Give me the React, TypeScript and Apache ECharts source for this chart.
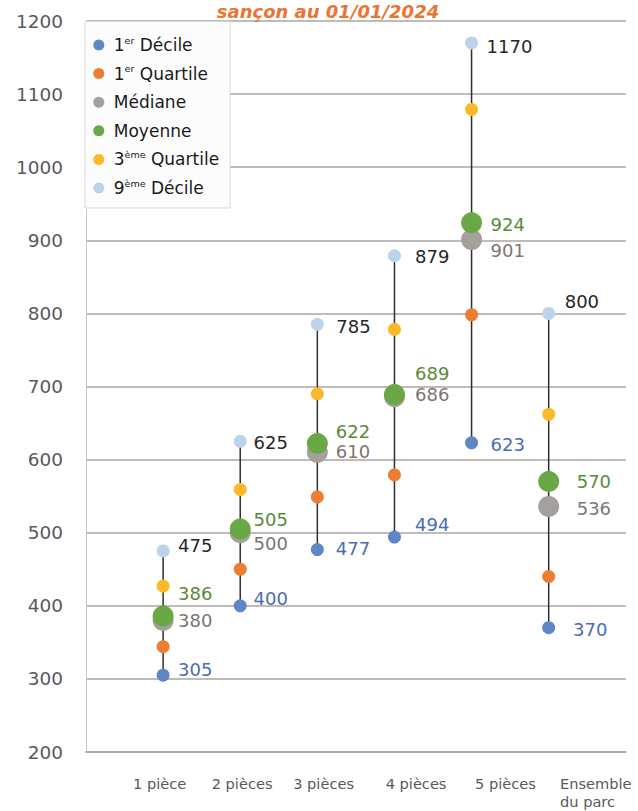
import React, { useEffect, useRef } from "react";
import * as echarts from "echarts";

// ---- data ----
const categories = ["1 pièce", "2 pièces", "3 pièces", "4 pièces", "5 pièces", "Ensemble du parc"];
const seriesNames = ["1er Décile", "1er Quartile", "Médiane", "Moyenne", "3ème Quartile", "9ème Décile"];
const decile1 = [305, 400, 477, 494, 623, 370];
const quartile1 = [344, 450, 549, 579, 798, 440];
const mediane = [380, 500, 610, 686, 901, 536];
const moyenne = [386, 505, 622, 689, 924, 570];
const quartile3 = [427, 559, 690, 778, 1079, 662];
const decile9 = [475, 625, 785, 879, 1170, 800];
const titleText = "sançon au 01/01/2024";

// ---- layout (positions of labels, not data) ----
const xLabelPos = [0.954, 2.024, 3.081, 4.28, 5.44, 6.633];
const d1LabelDx = [15, 13.3, 18.4, 20.6, 19, 24.4];
const d1LabelDy = [-6, -7, -1, -13, 1.5, 2];
const d9LabelDx = [15, 13.3, 19, 20.6, 15, 16];
const d9LabelDy = [-5, 1, 2, 1, 4, -12];
const meanLabelDx = [15, 13.3, 18.4, 20.6, 19, 28];
const meanLabelDy = [-23, -9.5, -12.5, -21.5, 2, 0];
const medLabelDx = [15, 13.3, 18.4, 20.6, 19, 28];
const medLabelDy = [0, 11, -1, -2, 11, 2];

const FONT = "DejaVu Sans";
const SMALL = 13;
const BIG = 21;

function pointData(values: number[], dx?: number[], dy?: number[], size = SMALL) {
  return values.map((v, i) => {
    const item: any = { value: [i + 1, v] };
    if (dx && dy) item.label = { offset: [dx[i] - size / 2, dy[i]] };
    return item;
  });
}

function wrapLabel(name: string) {
  if (name.indexOf(" du ") >= 0) {
    const parts = name.replace(" du ", "\ndu ").split("\n");
    return parts.map((p) => "{e|" + p + "}").join("\n");
  }
  return name;
}

export default function App() {
  const ref = useRef<HTMLDivElement>(null);

  useEffect(() => {
    if (!ref.current) return;
    const chart = echarts.init(ref.current, undefined, { renderer: "svg" });

    const labelBase = (color: string) => ({
      show: true,
      position: "right" as const,
      distance: 0,
      fontFamily: FONT,
      fontSize: 18,
      color,
      formatter: (p: any) => String(p.value[1]),
    });

    const option: any = {
      animation: false,
      backgroundColor: "#ffffff",
      graphic: [
        {
          type: "text",
          x: 328,
          y: 11,
          z: 20,
          style: {
            text: titleText,
            fill: "#ed7332",
            font: "italic bold 18px 'DejaVu Sans'",
            textAlign: "center",
            textVerticalAlign: "middle",
          },
        },
      ],
      grid: { left: 86, right: 9, top: 21, bottom: 59 },
      xAxis: {
        type: "value",
        min: 0,
        max: 7,
        axisLine: { show: true, lineStyle: { color: "#aaa5a1", width: 1.5 } },
        axisTick: { show: false },
        splitLine: { show: false },
        axisLabel: {
          customValues: xLabelPos,
          margin: 22.5,
          fontFamily: FONT,
          fontSize: 14.6,
          lineHeight: 18,
          color: "#595959",
          formatter: (value: number, index: number) => {
            let i = xLabelPos.indexOf(value);
            if (i < 0) i = index;
            return wrapLabel(categories[i] ?? "");
          },
          rich: {
            e: {
              width: 75,
              align: "left",
              fontFamily: FONT,
              fontSize: 14.6,
              lineHeight: 18,
              color: "#595959",
            },
          },
        },
      },
      yAxis: {
        type: "value",
        min: 200,
        max: 1200,
        interval: 100,
        axisLine: { show: true, lineStyle: { color: "#c9c6c4", width: 1 } },
        axisTick: { show: false },
        splitLine: { show: true, lineStyle: { color: "#aaa5a1", width: 1.5 } },
        axisLabel: {
          margin: 23,
          fontFamily: FONT,
          fontSize: 18.5,
          color: "#595959",
          formatter: (v: number) => String(v),
        },
      },
      legend: {
        orient: "vertical",
        left: 85,
        top: 21.5,
        z: 10,
        data: seriesNames.map((name) => ({ name, icon: "circle" })),
        itemWidth: 20,
        itemHeight: 11,
        itemGap: 8.6,
        padding: [13.5, 11, 10, 8.3],
        backgroundColor: "#fcfcfc",
        borderColor: "#d9d9d9",
        borderWidth: 1,
        selectedMode: false,
        formatter: (name: string) => name.replace(/^(\d)(er|ème)/, "$1{sup|$2}"),
        textStyle: {
          fontFamily: FONT,
          fontSize: 17,
          lineHeight: 20,
          color: "#1a1a1a",
          rich: {
            sup: {
              fontFamily: FONT,
              fontSize: 9.5,
              lineHeight: 8,
              verticalAlign: "top",
              color: "#1a1a1a",
            },
          },
        },
      },
      series: [
        {
          type: "custom",
          name: "étendue",
          silent: true,
          z: 1,
          renderItem: (params: any, api: any) => {
            const x = api.value(0);
            const p1 = api.coord([x, api.value(1)]);
            const p2 = api.coord([x, api.value(2)]);
            return {
              type: "line",
              shape: { x1: p1[0], y1: p1[1], x2: p2[0], y2: p2[1] },
              style: { stroke: "#2e2e2e", lineWidth: 1.5 },
            };
          },
          encode: { x: 0, y: [1, 2] },
          data: categories.map((c, i) => [i + 1, decile1[i], decile9[i]]),
        },
        {
          type: "scatter",
          name: seriesNames[0],
          z: 2,
          symbolSize: SMALL,
          itemStyle: { color: "#5f86c6", opacity: 1 },
          label: labelBase("#4a6db3"),
          data: pointData(decile1, d1LabelDx, d1LabelDy),
        },
        {
          type: "scatter",
          name: seriesNames[1],
          z: 2,
          symbolSize: SMALL,
          itemStyle: { color: "#ed7d31", opacity: 1 },
          data: pointData(quartile1),
        },
        {
          type: "scatter",
          name: seriesNames[4],
          z: 2,
          symbolSize: SMALL,
          itemStyle: { color: "#fdb827", opacity: 1 },
          data: pointData(quartile3),
        },
        {
          type: "scatter",
          name: seriesNames[5],
          z: 2,
          symbolSize: SMALL,
          itemStyle: { color: "#bdd3ea", opacity: 1 },
          label: labelBase("#262626"),
          data: pointData(decile9, d9LabelDx, d9LabelDy),
        },
        {
          type: "scatter",
          name: seriesNames[2],
          z: 3,
          symbolSize: BIG,
          itemStyle: { color: "#a4a09c", opacity: 1 },
          label: labelBase("#7b7673"),
          data: pointData(mediane, medLabelDx, medLabelDy, BIG),
        },
        {
          type: "scatter",
          name: seriesNames[3],
          z: 4,
          symbolSize: BIG,
          itemStyle: { color: "#6aa845", opacity: 1 },
          label: labelBase("#5a8a38"),
          data: pointData(moyenne, meanLabelDx, meanLabelDy, BIG),
        },
      ],
    };

    chart.setOption(option);
    return () => {
      chart.dispose();
    };
  }, []);

  return (
    <div
      ref={ref}
      style={{ position: "absolute", left: 0, top: 0, width: 638, height: 811, background: "#fff" }}
    />
  );
}
